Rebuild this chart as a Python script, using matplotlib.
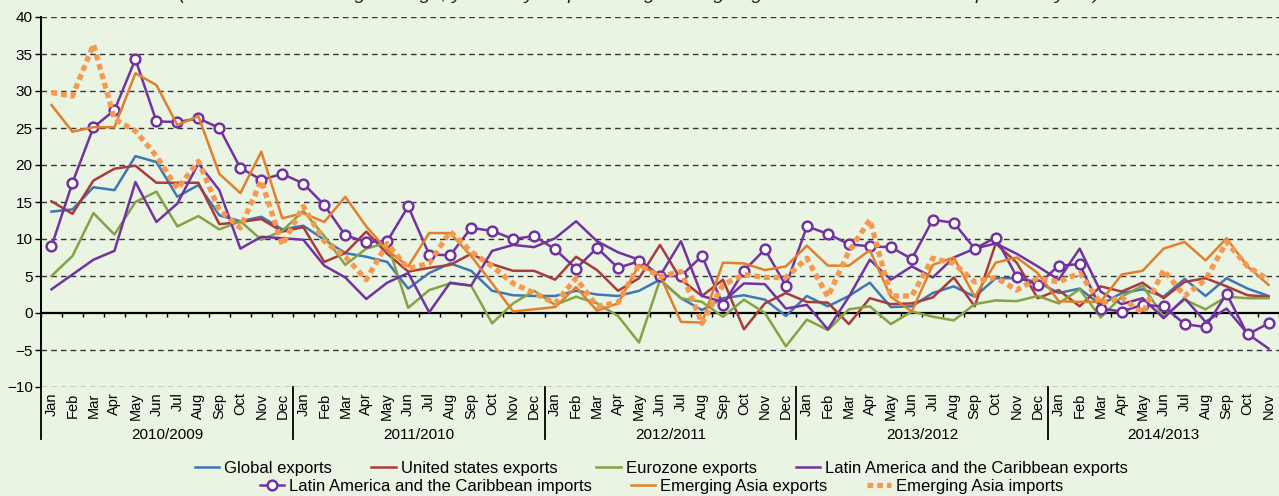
import numpy as np
import matplotlib
matplotlib.use("Agg")
import matplotlib.pyplot as plt
from matplotlib.transforms import blended_transform_factory

plt.rcParams["font.family"] = ["Liberation Sans", "DejaVu Sans"]

months = ["Jan", "Feb", "Mar", "Apr", "May", "Jun", "Jul", "Aug", "Sep", "Oct", "Nov", "Dec"]
periods = ["2010/2009", "2011/2010", "2012/2011", "2013/2012", "2014/2013"]
period_lengths = [12, 12, 12, 12, 11]

global_exports = [13.7, 14.0, 17.0, 16.6, 21.2, 20.4, 15.7, 17.3, 13.2, 12.4, 13.0, 11.3,
                  11.8, 9.9, 8.1, 7.6, 6.9, 3.3, 5.4, 6.7, 5.7, 3.0, 2.4, 2.3,
                  2.3, 3.0, 2.5, 2.3, 3.0, 4.5, 2.0, 0.4, 2.0, 2.4, 1.8, -0.4,
                  2.3, 0.9, 2.3, 4.1, 0.8, 0.9, 2.7, 3.6, 2.2, 4.7, 4.7, 4.2,
                  2.7, 3.3, 1.1, 2.7, 3.2, 2.2, 4.6, 2.3, 4.7, 3.3, 2.3]
us_exports = [15.1, 13.4, 17.9, 19.5, 19.9, 17.6, 17.6, 17.6, 12.0, 12.3, 12.7, 11.0,
              11.6, 6.9, 8.1, 11.0, 8.0, 5.6, 6.1, 6.5, 8.0, 6.6, 5.7, 5.7,
              4.5, 7.6, 5.8, 3.0, 4.7, 9.2, 4.5, 2.3, 4.5, -2.2, 1.3, 2.7,
              1.5, 1.4, -1.5, 2.0, 1.2, 1.3, 2.1, 4.8, 0.9, 9.4, 6.8, 2.0,
              3.1, 0.9, 3.6, 2.9, 4.1, 2.0, 4.2, 4.7, 3.6, 2.4, 2.2]
eurozone_exports = [5.0, 7.7, 13.5, 10.6, 15.0, 16.4, 11.7, 13.1, 11.3, 12.4, 9.9, 11.1,
                    13.8, 10.4, 6.5, 8.7, 9.5, 0.7, 3.1, 4.0, 3.7, -1.4, 1.3, 3.0,
                    1.1, 2.2, 1.3, -0.4, -4.0, 4.5, 2.0, 1.5, -0.5, 1.8, 0.0, -4.5,
                    -0.9, -2.3, 0.5, 0.9, -1.5, 0.2, -0.5, -1.0, 1.2, 1.7, 1.6, 2.3,
                    1.3, 3.2, -0.6, 2.2, 3.7, -0.5, 1.8, 0.5, 2.2, 2.0, 2.0]
latam_exports = [3.2, 5.2, 7.2, 8.4, 17.7, 12.3, 14.8, 20.2, 16.6, 8.7, 10.3, 10.1,
                 9.9, 6.4, 4.8, 1.9, 4.1, 5.4, 0.1, 4.1, 3.7, 8.4, 9.2, 8.9,
                 10.1, 12.4, 9.7, 8.2, 7.2, 5.0, 9.7, 2.3, 1.5, 4.0, 3.9, 0.6,
                 1.1, -2.2, 2.2, 7.2, 4.5, 6.3, 4.8, 7.5, 8.7, 9.4, 8.0, 6.3,
                 4.5, 8.7, 2.9, 1.2, 2.0, -0.7, 2.0, -1.2, 0.6, -2.8, -4.8]
latam_imports = [9.0, 17.6, 25.1, 27.4, 34.3, 25.9, 25.8, 26.3, 25.0, 19.6, 18.0, 18.8,
                 17.5, 14.6, 10.5, 9.6, 9.7, 14.4, 7.9, 7.8, 11.5, 11.1, 10.0, 10.4,
                 8.6, 6.0, 8.8, 6.1, 7.0, 5.0, 5.0, 7.7, 1.1, 5.7, 8.6, 3.7,
                 11.7, 10.7, 9.3, 9.0, 8.9, 7.3, 12.6, 12.2, 8.7, 10.2, 4.9, 3.8,
                 6.4, 6.6, 0.6, 0.2, 1.1, 0.9, -1.5, -1.9, 2.6, -2.9, -1.4]
asia_exports = [28.1, 24.5, 25.1, 25.1, 32.4, 30.8, 25.4, 26.6, 18.8, 16.2, 21.8, 12.8,
                13.5, 12.3, 15.7, 11.7, 8.5, 6.3, 10.8, 10.8, 7.7, 4.0, 0.2, 0.5,
                0.8, 3.5, 0.3, 1.3, 6.5, 5.1, -1.2, -1.3, 6.8, 6.7, 5.8, 6.3,
                9.1, 6.4, 6.4, 8.5, 2.2, 0.2, 6.5, 7.5, 2.2, 6.8, 7.5, 5.4,
                1.6, 1.5, 1.5, 5.2, 5.7, 8.7, 9.6, 7.1, 10.1, 6.3, 3.8]
asia_imports = [29.8, 29.3, 36.3, 26.2, 24.6, 21.2, 16.8, 20.5, 13.9, 11.5, 17.9, 9.2,
                14.4, 9.7, 7.6, 4.5, 9.4, 6.0, 6.7, 11.0, 8.3, 6.3, 4.0, 2.7,
                1.3, 4.7, 0.9, 1.4, 6.5, 4.9, 5.6, -1.4, 3.8, 5.2, 4.8, 4.8,
                7.4, 2.2, 8.3, 12.6, 2.3, 2.3, 7.4, 6.7, 4.2, 4.8, 3.1, 4.7,
                4.2, 5.4, 1.3, 2.1, 0.0, 5.8, 2.3, 4.5, 9.6, 6.3, 4.5]

bg = "#EAF4E3"
n = len(global_exports)
x = np.arange(n)
month_labels = [months[i % 12] for i in range(n)]

fig = plt.figure(figsize=(12.79, 4.96), dpi=100, facecolor=bg)
ax = fig.add_axes([41 / 1279, (496 - 387) / 496, 1238 / 1279, 370 / 496])
ax.set_facecolor(bg)

ax.set_xlim(-0.5, n - 0.5)
ax.set_ylim(-10, 40)
ax.set_yticks(np.arange(-10, 41, 5))
for v in np.arange(-10, 41, 5):
    if v != 0:
        ax.axhline(v, color="#333333", lw=1.0, ls=(0, (4, 3)), zorder=1)
ax.axhline(0, color="black", lw=1.6, zorder=1)
ax.vlines(np.arange(-0.5, n, 1), -0.6, 0, color="black", lw=1.0, zorder=1)

for s in ["top", "right", "bottom"]:
    ax.spines[s].set_visible(False)
ax.spines["left"].set_linewidth(1.4)
ax.tick_params(axis="y", length=4, width=1.0, labelsize=11, pad=2)
ax.set_xticks(x)
ax.set_xticklabels(month_labels, rotation=90, fontsize=10.5)
ax.tick_params(axis="x", length=0, pad=4)

lw = 1.8
h1, = ax.plot(x, global_exports, color="#3E76B6", lw=lw, zorder=3)
h2, = ax.plot(x, us_exports, color="#A83B3B", lw=lw, zorder=3)
h3, = ax.plot(x, eurozone_exports, color="#84A343", lw=lw, zorder=3)
h4, = ax.plot(x, latam_exports, color="#7233A0", lw=lw, zorder=3)
h5, = ax.plot(x, latam_imports, color="#7233A0", lw=lw, marker="o", ms=7,
              mfc="white", mec="#7233A0", mew=1.8, zorder=4)
h6, = ax.plot(x, asia_exports, color="#E0802E", lw=lw, zorder=4)
h7, = ax.plot(x, asia_imports, color="#F7984E", lw=3.8, ls=(0, (1.1, 0.75)),
              dash_capstyle="butt", zorder=5)

# group labels and separators under the month labels
trans = blended_transform_factory(ax.transData, ax.transAxes)
start = 0
for name, length in zip(periods, period_lengths):
    ax.plot([start - 0.5, start - 0.5], [0, -0.14], color="black", lw=1.3,
            transform=trans, clip_on=False)
    ax.text(start + (length - 1) / 2, -0.13, name, transform=trans,
            ha="center", va="center", fontsize=11)
    start += length

# title sits mostly above the picture, only its descenders show
fig.text(0.5, 1 + 1.5 / 496,
         "(Three-month moving average, year-on-year percentage change against the same month of previous year)",
         ha="center", va="baseline", fontsize=14, style="italic", color="#222222")

leg_kw = dict(loc="center", frameon=False, fontsize=12, handlelength=1.45,
              handletextpad=0.3, columnspacing=2.35, borderpad=0, borderaxespad=0)
fig.legend([h1, h2, h3, h4],
           ["Global exports", "United states exports", "Eurozone exports",
            "Latin America and the Caribbean exports"],
           bbox_to_anchor=(661.5 / 1279, 1 - 468 / 496), ncol=4, **leg_kw)
fig.legend([h5, h6, h7],
           ["Latin America and the Caribbean imports", "Emerging Asia exports",
            "Emerging Asia imports"],
           bbox_to_anchor=(661.5 / 1279, 1 - 486 / 496), ncol=3, **leg_kw)

fig.savefig("out.png", dpi=100, facecolor=bg)
